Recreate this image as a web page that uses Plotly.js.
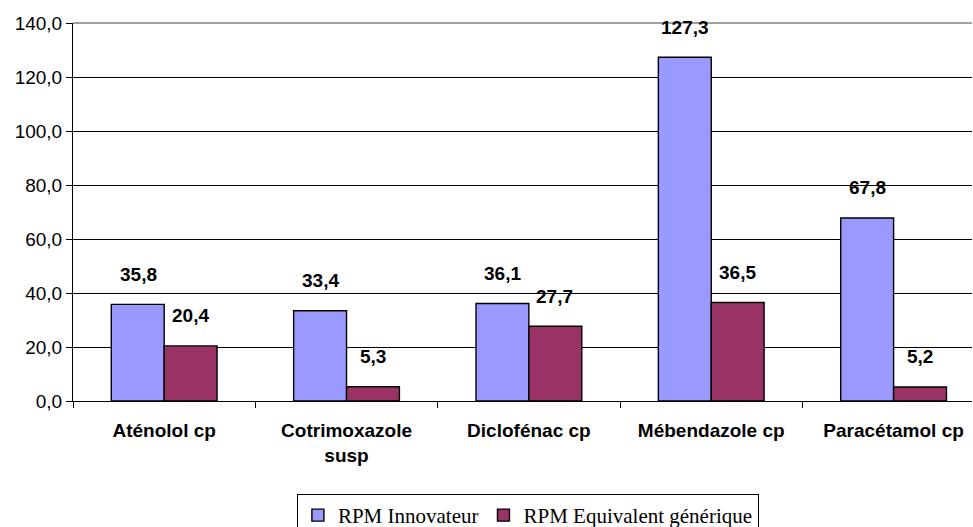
<!DOCTYPE html>
<html>
<head>
<meta charset="utf-8">
<script src="https://cdn.plot.ly/plotly-3.0.1.min.js"></script>
<style>
  html, body { margin: 0; padding: 0; background: #fff; }
  #chart { width: 973px; height: 527px; }
</style>
</head>
<body>
<div id="chart"></div>
<script>
// Data
const categories = ['Aténolol cp', 'Cotrimoxazole<br>susp', 'Diclofénac cp', 'Mébendazole cp', 'Paracétamol cp'];
const innovateur = [35.8, 33.4, 36.1, 127.3, 67.8];
const generique = [20.4, 5.3, 27.7, 36.5, 5.2];
const seriesNames = ['RPM Innovateur', 'RPM Equivalent générique'];

const fmt = v => v.toFixed(1).replace('.', ',');

const traceInno = {
  x: categories,
  y: innovateur,
  name: seriesNames[0],
  type: 'bar',
  marker: { color: '#9999ff', line: { color: '#000', width: 1.4 } },
  hoverinfo: 'skip'
};

const traceGen = {
  x: categories,
  y: generique,
  name: seriesNames[1],
  type: 'bar',
  marker: { color: '#993366', line: { color: '#000', width: 1.4 } },
  hoverinfo: 'skip'
};

// Data labels sit well above the bars, as in the original
function labels(values, shift) {
  return values.map((v, i) => ({
    x: categories[i],
    y: v,
    xref: 'x',
    yref: 'y',
    xshift: shift,
    yshift: 30,
    text: fmt(v),
    showarrow: false,
    font: { family: 'Liberation Sans, Arial', size: 19, color: '#000', weight: 'bold' }
  }));
}

const layout = {
  width: 973,
  height: 527,
  // legend is cut by the bottom edge in the original, so don't let it push the plot
  margin: { l: 73, r: 1, t: 23, b: 126, autoexpand: false },
  paper_bgcolor: '#fff',
  plot_bgcolor: '#fff',
  barmode: 'group',
  bargap: 0.42,
  bargroupgap: 0,
  separators: ',.',
  font: { family: 'Liberation Sans, Arial', size: 19, color: '#000' },
  xaxis: {
    type: 'category',
    // the original plot area runs a little past the right edge of the image
    range: [-0.5, 4.43],
    showline: true,
    linecolor: '#000',
    linewidth: 1,
    ticks: 'outside',
    tickson: 'boundaries',
    ticklen: 6,
    tickcolor: '#000',
    ticklabelstandoff: 12,
    tickfont: { family: 'Liberation Sans, Arial', size: 19, weight: 'bold' },
    showgrid: false,
    automargin: false,
    fixedrange: true
  },
  yaxis: {
    range: [0, 140],
    dtick: 20,
    tickformat: '.1f',
    showline: true,
    linecolor: '#000',
    linewidth: 1,
    ticks: 'outside',
    ticklen: 6,
    tickcolor: '#000',
    showgrid: true,
    gridcolor: '#000',
    gridwidth: 1,
    zeroline: false,
    tickfont: { family: 'Liberation Sans, Arial', size: 19 },
    automargin: false,
    fixedrange: true
  },
  shapes: [{
    type: 'line', xref: 'paper', yref: 'paper',
    x0: 0, x1: 1, y0: 1, y1: 1,
    line: { color: '#808080', width: 1.5 }
  }],
  showlegend: true,
  legend: {
    orientation: 'h',
    x: 0.506,
    xanchor: 'center',
    y: -0.246,
    yanchor: 'top',
    bordercolor: '#000',
    borderwidth: 1,
    font: { family: 'Liberation Serif, Times New Roman', size: 21 },
    itemwidth: 30,
    tracegroupgap: 0
  },
  annotations: labels(innovateur, -26).concat(labels(generique, 26))
};

const config = { responsive: false, displayModeBar: false, staticPlot: true };

Plotly.newPlot('chart', [traceInno, traceGen], layout, config);
</script>
</body>
</html>
